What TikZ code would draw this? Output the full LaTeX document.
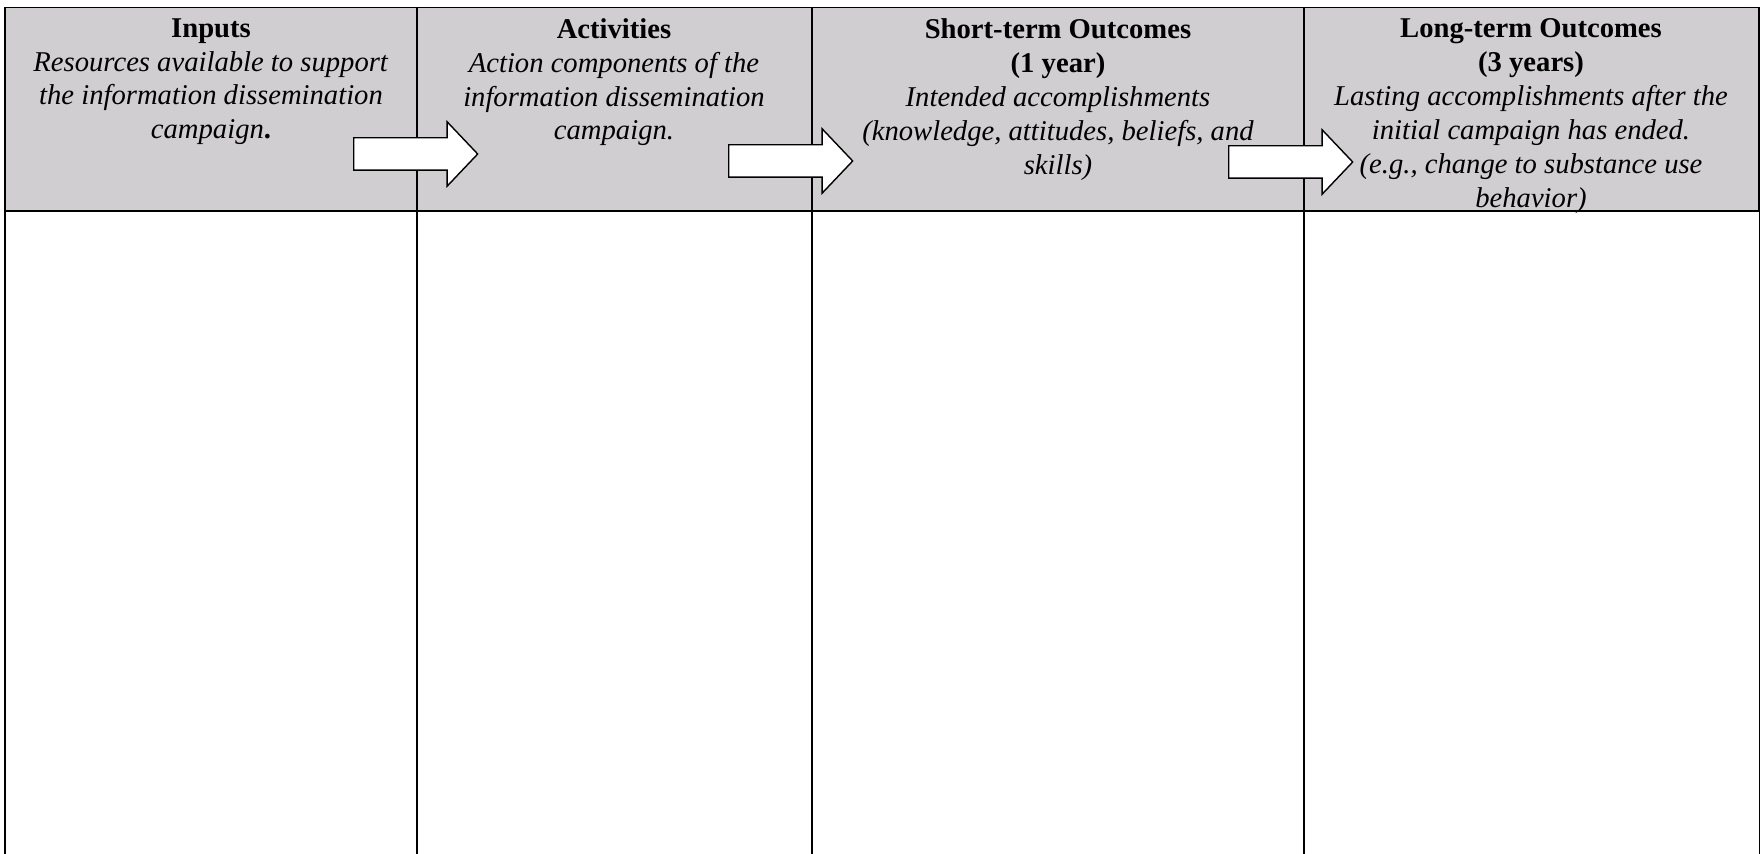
\documentclass[tikz,border=0pt]{standalone}
\usepackage{fontspec}
\setmainfont{Liberation Serif}
\usetikzlibrary{shapes.arrows}
\definecolor{cellgray}{RGB}{208,206,209}

\begin{document}
\begin{tikzpicture}[
    x=0.02cm, y=-0.02cm,
    headcell/.style={fill=cellgray, draw, line width=1.1pt},
    rule/.style={draw, line width=0.6pt},
    label/.style={anchor=north, align=center, inner sep=0pt, font=\fontsize{16.3}{19.3}\selectfont},
    flow/.style={single arrow, draw, fill=white, line width=0.8pt, anchor=tail,
        inner xsep=0pt, inner ysep=0.31cm, minimum height=2.48cm,
        single arrow head extend=0.32cm, single arrow tip angle=93},
]
\useasboundingbox (0,0) rectangle (1760,854);

% header row
\draw[headcell] (5,7.5) rectangle (417,211);
\draw[headcell] (417,7.5) rectangle (812,211);
\draw[headcell] (812,7.5) rectangle (1304,211);
\draw[headcell] (1304,7.5) rectangle (1759,211);

% empty columns below
\foreach \x in {5,417,812,1304,1759}
    \draw[rule] (\x,211) -- (\x,854);

% column titles
\node[label] (inputs) at (211,18) {\textbf{Inputs}\\\textit{Resources available to support}\\\textit{the information dissemination}\\\textit{campaign}\textbf{.}};
\node[label] (activities) at (614,18) {\textbf{Activities}\\\textit{Action components of the}\\\textit{information dissemination}\\\textit{campaign.}};
\node[label] (short) at (1058,18.5) {\textbf{Short-term Outcomes}\\\textbf{(1 year)}\\\textit{Intended accomplishments}\\\textit{(knowledge, attitudes, beliefs, and}\\\textit{skills)}};
\node[label] (long) at (1531,18.5) {\textbf{Long-term Outcomes}\\\textbf{(3 years)}\\\textit{Lasting accomplishments after the}\\\textit{initial campaign has ended.}\\\textit{(e.g., change to substance use}\\\textit{behavior)}};

% block arrows
\node[flow] (inact) at (353,154) {};
\node[flow] (actshort) at (728,161) {};
\node[flow] (shortlong) at (1228,162) {};

\end{tikzpicture}
\end{document}
